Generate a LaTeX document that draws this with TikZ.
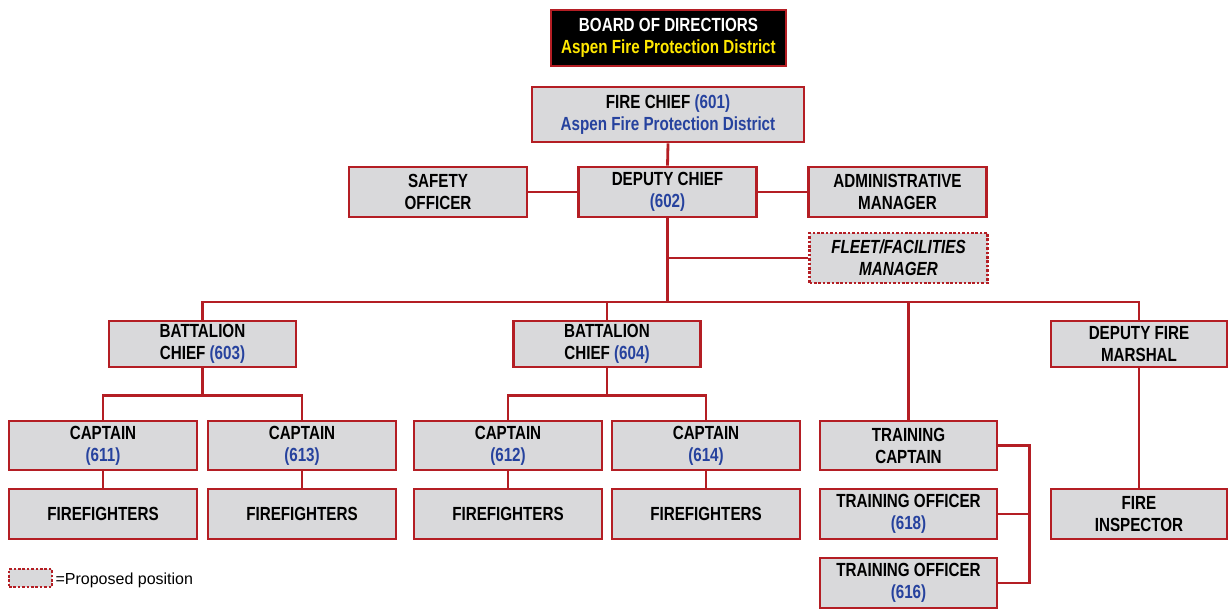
\documentclass[tikz,border=0pt]{standalone}
\usepackage{fontspec}
\setmainfont[FakeStretch=0.8]{Liberation Sans}
\newfontfamily\legfont{Liberation Sans}
\definecolor{cred}{RGB}{180,30,36}
\definecolor{cgray}{RGB}{217,217,219}
\definecolor{cblue}{RGB}{38,66,158}
\definecolor{cyel}{RGB}{255,232,0}
\newcommand{\num}[1]{\textcolor{cblue}{#1}}
\tikzset{
  box/.style={draw=cred, line width=2.8pt, fill=cgray, rectangle, inner sep=0pt, align=center,
    font=\fontsize{19}{22}\selectfont\bfseries},
  proposed/.style={box, dash pattern=on 2.6pt off 1.8pt},
  link/.style={draw=cred, line width=2.8pt},
}
\begin{document}
\begin{tikzpicture}[x=1pt,y=-1pt]
\useasboundingbox (0,0) rectangle (1228,609);
% boxes
\node[box, fill=black, minimum width=235pt, minimum height=56pt] (bod) at (668.5,38)
  {\textcolor{white}{BOARD OF DIRECTIORS}\\\textcolor{cyel}{Aspen Fire Protection District}};
\node[box, minimum width=272pt, minimum height=55pt] (fc) at (668,114.5)
  {FIRE CHIEF \num{(601)}\\\num{Aspen Fire Protection District}};
\node[box, minimum width=178pt, minimum height=50pt] (so) at (438,192) {SAFETY\\OFFICER};
\node[box, minimum width=178pt, minimum height=50pt] (dc) at (667.5,192) {DEPUTY CHIEF\\\num{(602)}};
\node[box, minimum width=178pt, minimum height=50pt] (am) at (897.5,192) {ADMINISTRATIVE\\MANAGER};
\node[proposed, minimum width=178pt, minimum height=50pt] (fm) at (898.5,258) {\itshape FLEET/FACILITIES\\\itshape MANAGER};
\node[box, minimum width=187pt, minimum height=46pt] (bc1) at (202.5,344) {BATTALION\\CHIEF \num{(603)}};
\node[box, minimum width=187pt, minimum height=46pt] (bc2) at (607,344) {BATTALION\\CHIEF \num{(604)}};
\node[box, minimum width=176pt, minimum height=46pt] (dfm) at (1139,344) {DEPUTY FIRE\\MARSHAL};
\node[box, minimum width=188pt, minimum height=49pt] (c611) at (103,445.5) {CAPTAIN\\\num{(611)}};
\node[box, minimum width=188pt, minimum height=49pt] (c613) at (302,445.5) {CAPTAIN\\\num{(613)}};
\node[box, minimum width=188pt, minimum height=49pt] (c612) at (508,445.5) {CAPTAIN\\\num{(612)}};
\node[box, minimum width=188pt, minimum height=49pt] (c614) at (706,445.5) {CAPTAIN\\\num{(614)}};
\node[box, minimum width=188pt, minimum height=50pt] (f1) at (103,514) {FIREFIGHTERS};
\node[box, minimum width=188pt, minimum height=50pt] (f2) at (302,514) {FIREFIGHTERS};
\node[box, minimum width=188pt, minimum height=50pt] (f3) at (508,514) {FIREFIGHTERS};
\node[box, minimum width=188pt, minimum height=50pt] (f4) at (706,514) {FIREFIGHTERS};
\node[box, minimum width=177pt, minimum height=49pt] (tc) at (908.5,445.5) {TRAINING\\CAPTAIN};
\node[box, minimum width=177pt, minimum height=50pt] (to1) at (908.5,514) {TRAINING OFFICER\\\num{(618)}};
\node[box, minimum width=177pt, minimum height=50pt] (to2) at (908.5,583) {TRAINING OFFICER\\\num{(616)}};
\node[box, minimum width=176pt, minimum height=50pt] (fi) at (1139,514) {FIRE\\INSPECTOR};
% legend
\node[proposed, minimum width=43pt, minimum height=18pt] (leg) at (30.5,578) {};
\node[anchor=west, inner sep=0pt, font=\legfont\fontsize{16}{18}\selectfont] (legt) at ([xshift=2pt,yshift=-2pt]leg.east) {=Proposed position};
% connectors
\coordinate (j) at (667.5,302);
\draw[link] (fc.south) -- (dc.north);
\draw[link] (so.east) -- (dc.west);
\draw[link] (dc.east) -- (am.west);
\draw[link] (dc.south) -- (j);
\draw[link] (fm.west) -- (fm.west -| dc.south);
\draw[link] (bc1.north) |- (j) -| (dfm.north);
\draw[link] (bc2.north) -- (bc2.north |- j);
\draw[link] (tc.north) -- (tc.north |- j);
\draw[link] (c611.north) -- ++(0,-24) -| (c613.north);
\draw[link] (bc1.south) -- ++(0,28);
\draw[link] (c612.north) -- ++(0,-24) -| (c614.north);
\draw[link] (bc2.south) -- ++(0,28);
\draw[link] (c611.south) -- (f1.north);
\draw[link] (c613.south) -- (f2.north);
\draw[link] (c612.south) -- (f3.north);
\draw[link] (c614.south) -- (f4.north);
\draw[link] (tc.east) -- ++(31,0) |- (to2.east);
\draw[link] (to1.east) -- ++(31,0);
\draw[link] (dfm.south) -- (fi.north);
\end{tikzpicture}
\end{document}
